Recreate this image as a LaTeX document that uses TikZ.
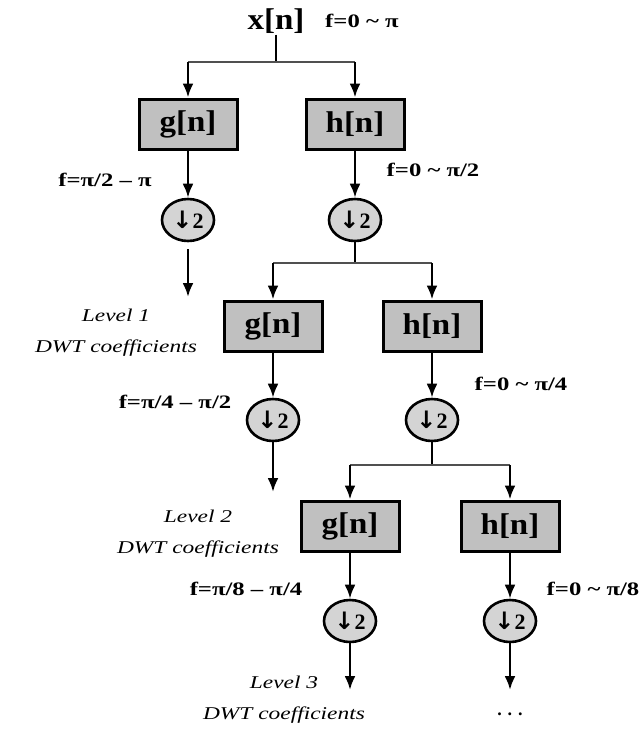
\documentclass[tikz,border=0pt]{standalone}
\usepackage{fontspec}
\setmainfont{Liberation Serif}
\newfontfamily\widefont[FakeStretch=1.3]{Liberation Serif}
\newfontfamily\boxfont[FakeStretch=1.1]{Liberation Serif}
\newfontfamily\djv{DejaVu Sans}
\usetikzlibrary{arrows.meta,shapes.geometric}
\definecolor{boxgray}{RGB}{192,192,192}
\definecolor{ellgray}{RGB}{212,212,212}
\definecolor{brgray}{RGB}{80,80,80}
\newcommand{\dsdown}{{\djv\bfseries\fontsize{24}{24}\selectfont ↓}2}
\begin{document}
\begin{tikzpicture}[x=1pt,y=-1pt,
  filt/.style={draw, line width=3pt, fill=boxgray, minimum width=98pt, minimum height=50pt, inner sep=0pt, font=\boxfont\bfseries\fontsize{30}{30}\selectfont},
  ds/.style={ellipse, draw, line width=2.6pt, fill=ellgray, minimum width=52pt, minimum height=42pt, inner sep=0pt, font=\bfseries\fontsize{22}{22}\selectfont},
  flab/.style={font=\widefont\bfseries\fontsize{19}{19}\selectfont, inner sep=0pt},
  lvl/.style={font=\widefont\itshape\fontsize{18}{31}\selectfont, align=center, inner sep=0pt},
  conn/.style={line width=2.6pt, -{Latex[length=14pt,width=11pt]}},
  wire/.style={line width=2.6pt},
  branch/.style={line width=2.6pt, draw=brgray}]
\useasboundingbox (0,0) rectangle (643,729);

% input
\node[font=\boxfont\bfseries\fontsize{30}{30}\selectfont, inner sep=1pt] (x) at (276,21) {x[n]};
\node[flab, anchor=west] (f0) at (325,21) {f=0 \textasciitilde\ π};
\coordinate (b0) at (276,62);

% level 1
\node[filt] (g1) at (188,124) {g[n]};
\node[filt] (h1) at (355,124) {h[n]};
\node[ds] (d1g) at (188,220) {\dsdown};
\node[ds] (d1h) at (355,220) {\dsdown};
\coordinate (o1) at (188,297);
\coordinate (b1) at (355,263);
\node[flab] (fg1) at (105,180) {f=π/2 – π};
\node[flab] (fh1) at (433,170) {f=0 \textasciitilde\ π/2};
\node[lvl] (l1) at (116,333) {Level 1\\DWT coefficients};

% level 2
\node[filt] (g2) at (273,326) {g[n]};
\node[filt] (h2) at (432,326) {h[n]};
\node[ds] (d2g) at (273,420) {\dsdown};
\node[ds] (d2h) at (432,420) {\dsdown};
\coordinate (o2) at (273,492);
\coordinate (b2) at (432,465);
\node[flab] (fg2) at (175,402) {f=π/4 – π/2};
\node[flab] (fh2) at (521,384) {f=0 \textasciitilde\ π/4};
\node[lvl] (l2) at (198,534) {Level 2\\DWT coefficients};

% level 3
\node[filt] (g3) at (350,526) {g[n]};
\node[filt] (h3) at (510,526) {h[n]};
\node[ds] (d3g) at (350,621) {\dsdown};
\node[ds] (d3h) at (510,621) {\dsdown};
\coordinate (o3) at (350,690);
\coordinate (o4) at (510,690);
\node[flab] (fg3) at (246,589) {f=π/8 – π/4};
\node[flab] (fh3) at (593,589) {f=0 \textasciitilde\ π/8};
\node[lvl] (l3) at (284,700) {Level 3\\DWT coefficients};
\node[font=\bfseries\fontsize{18}{18}\selectfont] (dots) at (510,714) {. . .};

% connectors
\draw[wire] (x.south) -- (b0);
\draw[branch] (g1.north |- b0) -- (h1.north |- b0);
\draw[conn] (g1.north |- b0) -- (g1.north);
\draw[conn] (h1.north |- b0) -- (h1.north);
\draw[conn] (g1.south) -- (d1g.north);
\draw[conn] (h1.south) -- (d1h.north);
\draw[conn, shorten <=7pt] (d1g.south) -- (o1);
\draw[wire] (d1h.south) -- (b1);
\draw[branch] (g2.north |- b1) -- (h2.north |- b1);
\draw[conn] (g2.north |- b1) -- (g2.north);
\draw[conn] (h2.north |- b1) -- (h2.north);
\draw[conn] (g2.south) -- (d2g.north);
\draw[conn] (h2.south) -- (d2h.north);
\draw[conn] (d2g.south) -- (o2);
\draw[wire] (d2h.south) -- (b2);
\draw[branch] (g3.north |- b2) -- (h3.north |- b2);
\draw[conn] (g3.north |- b2) -- (g3.north);
\draw[conn] (h3.north |- b2) -- (h3.north);
\draw[conn] (g3.south) -- (d3g.north);
\draw[conn] (h3.south) -- (d3h.north);
\draw[conn] (d3g.south) -- (o3);
\draw[conn] (d3h.south) -- (o4);
\end{tikzpicture}
\end{document}
